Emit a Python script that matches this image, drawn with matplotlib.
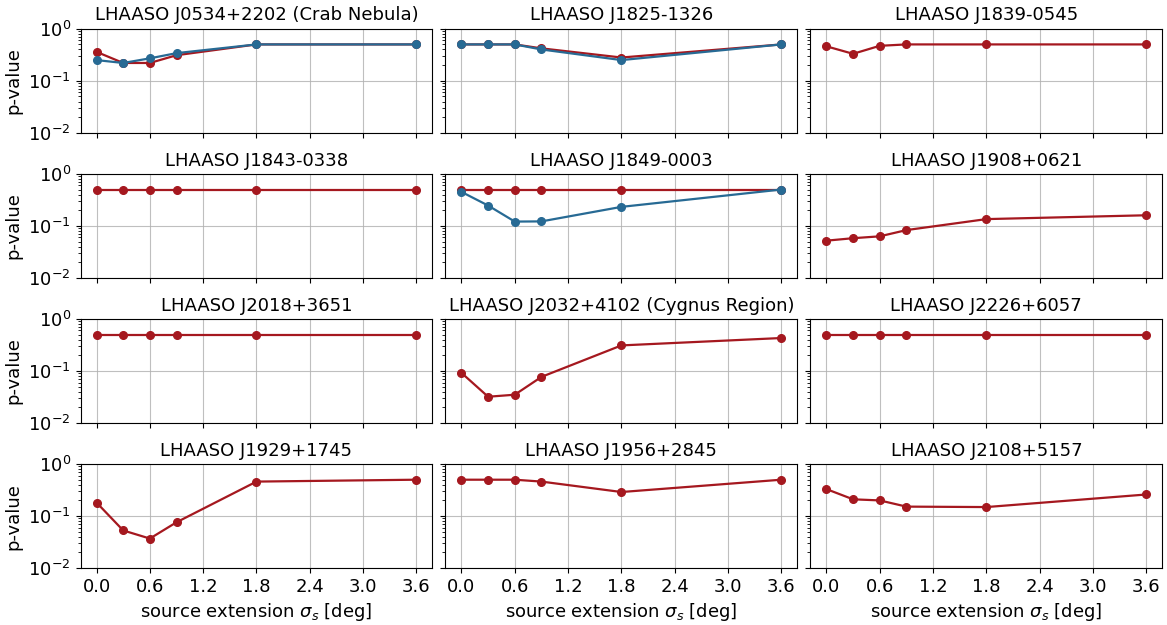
import numpy as np
import matplotlib
matplotlib.use("Agg")
import matplotlib.pyplot as plt

# source extension values tested (deg)
sigma_s = [0.0, 0.3, 0.6, 0.9, 1.8, 3.6]

sources = [
    "LHAASO J0534+2202 (Crab Nebula)", "LHAASO J1825-1326", "LHAASO J1839-0545",
    "LHAASO J1843-0338", "LHAASO J1849-0003", "LHAASO J1908+0621",
    "LHAASO J2018+3651", "LHAASO J2032+4102 (Cygnus Region)", "LHAASO J2226+6057",
    "LHAASO J1929+1745", "LHAASO J1956+2845", "LHAASO J2108+5157",
]

# red curve (every source)
p_red = [
    [0.36, 0.22, 0.22, 0.31, 0.5, 0.5],
    [0.5, 0.5, 0.5, 0.42, 0.28, 0.5],
    [0.46, 0.33, 0.47, 0.5, 0.5, 0.5],
    [0.5, 0.5, 0.5, 0.5, 0.5, 0.5],
    [0.5, 0.5, 0.5, 0.5, 0.5, 0.5],
    [0.052, 0.058, 0.063, 0.083, 0.135, 0.16],
    [0.5, 0.5, 0.5, 0.5, 0.5, 0.5],
    [0.092, 0.032, 0.035, 0.077, 0.31, 0.43],
    [0.5, 0.5, 0.5, 0.5, 0.5, 0.5],
    [0.182, 0.053, 0.037, 0.076, 0.46, 0.5],
    [0.5, 0.5, 0.5, 0.46, 0.29, 0.5],
    [0.33, 0.21, 0.2, 0.152, 0.149, 0.26],
]

# blue curve (only three sources have it)
p_blue = {
    0: [0.25, 0.22, 0.27, 0.34, 0.5, 0.5],
    1: [0.5, 0.5, 0.5, 0.40, 0.25, 0.5],
    4: [0.45, 0.246, 0.121, 0.122, 0.232, 0.5],
}

red = "#a5181f"
blue = "#276a94"

plt.rcParams["font.size"] = 13

fig, axes = plt.subplots(4, 3, figsize=(11.67, 6.25), dpi=100, sharex=True, sharey=True)
fig.subplots_adjust(left=0.069, right=0.996, top=0.954, bottom=0.091, wspace=0.037, hspace=0.394)

for i, ax in enumerate(axes.flat):
    ax.plot(sigma_s, p_red[i], color=red, marker="o", markersize=5.5, linewidth=1.6)
    if i in p_blue:
        ax.plot(sigma_s, p_blue[i], color=blue, marker="o", markersize=5.5, linewidth=1.6)
    ax.set_yscale("log")
    ax.set_ylim(1e-2, 1e0)
    ax.set_xticks(np.arange(0, 3.7, 0.6))
    ax.grid(True, color="#b0b0b0", linewidth=0.8, alpha=0.8)
    ax.set_title(sources[i], fontsize=13)
    if i % 3 == 0:
        ax.set_ylabel("p-value")
    if i >= 9:
        ax.set_xlabel(r"source extension $\sigma_s$ [deg]")

fig.savefig("out.png", dpi=100)
